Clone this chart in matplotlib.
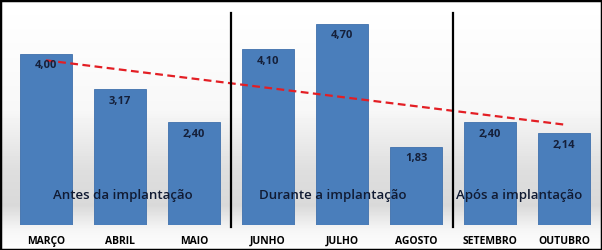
import matplotlib
matplotlib.use("Agg")
import matplotlib.pyplot as plt
import numpy as np
from matplotlib.patches import Rectangle

# -----------------------
# Data
# -----------------------
months = ["MARÇO", "ABRIL", "MAIO", "JUNHO", "JULHO", "AGOSTO", "SETEMBRO", "OUTUBRO"]
values = [4.00, 3.17, 2.40, 4.10, 4.70, 1.83, 2.40, 2.14]
phases = ["Antes da implantação", "Durante a implantação", "Após a implantação"]
phase_pos = [1.04, 3.88, 6.4]
phase_breaks = [2.5, 5.5]

plt.rcParams['font.family'] = ['Open Sans', 'DejaVu Sans']

fig = plt.figure(figsize=(6.02, 2.50), dpi=100)

# background gradient (white -> light gray -> white)
bg = fig.add_axes([0, 0, 1, 1], zorder=0)
py = np.array([0, 110, 170, 205, 228, 250])
gv = np.array([1.0, 0.97, 0.87, 0.85, 0.96, 1.0])
col = np.interp(np.arange(250), py, gv)
bg.imshow(np.repeat(col[:, None], 2, axis=1), cmap="gray", vmin=0, vmax=1,
          aspect="auto", extent=[0, 1, 0, 1])
bg.axis("off")

ax = fig.add_axes([0, 0.1, 1, 0.9], zorder=1)
ax.patch.set_alpha(0)
x = np.arange(len(months))
ax.bar(x, values, width=0.70, color="#4A7EBB", edgecolor="#3F70AC", linewidth=0.6, zorder=2)

for xi, v in zip(x, values):
    ax.text(xi, v - 0.28, f"{v:.2f}".replace(".", ","), ha="center", va="center",
            fontsize=8, fontweight="bold", color="#15203A", zorder=4)

# linear trend
coef = np.polyfit(x + 1, values, 1)
tx = np.array([x[0], x[-1]])
ax.plot(tx, np.polyval(coef, tx + 1), color="#E31E24", lw=1.6, ls=(0, (3.5, 2)), zorder=3)

for b in phase_breaks:
    ax.plot([b, b], [-0.05, 4.95], color="black", lw=1.6, zorder=3, clip_on=False)

for label, px in zip(phases, phase_pos):
    ax.text(px, 0.68, label, ha="center", va="center", fontsize=9.5,
            fontweight="semibold", color="#111B33", zorder=4)

ax.set_xlim(-0.622, 7.514)
ax.set_ylim(0, 5.25)
ax.set_xticks(x)
ax.set_xticklabels(months, fontsize=7.5, fontweight="bold", color="black")
ax.tick_params(axis="x", length=0, pad=8)
ax.set_yticks([])
for s in ax.spines.values():
    s.set_visible(False)

fig.patches.append(Rectangle((0, 0), 1, 1, transform=fig.transFigure, fill=False,
                             edgecolor="black", linewidth=2.5, zorder=10))

fig.savefig("out.png", dpi=100)
